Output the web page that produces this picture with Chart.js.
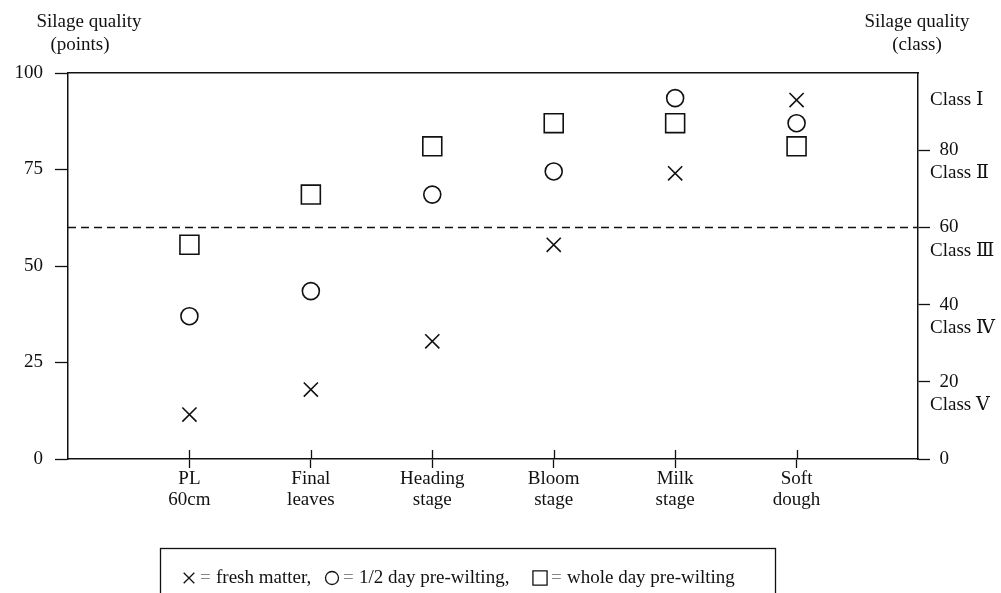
<!DOCTYPE html>
<html>
<head>
<meta charset="utf-8">
<script src="https://cdn.jsdelivr.net/npm/chart.js@4"></script>
<style>
  html, body { margin: 0; padding: 0; background: #fff; }
</style>
</head>
<body>
<canvas id="chart" width="1001" height="593"></canvas>
<script>
// values (points scale, 0-100)
const stages = [['PL', '60cm'], ['Final', 'leaves'], ['Heading', 'stage'], ['Bloom', 'stage'], ['Milk', 'stage'], ['Soft', 'dough']];
const freshMatter = [11.5, 18, 30.5, 55.5, 74, 93];
const halfDayWilted = [37, 43.5, 68.5, 74.5, 93.5, 87];
const wholeDayWilted = [55.5, 68.5, 81, 87, 87, 81];

const pointTicks = [0, 25, 50, 75, 100];
const classTicks = [0, 20, 40, 60, 80];
const classNames = ['Class Ⅰ', 'Class Ⅱ', 'Class Ⅲ', 'Class Ⅳ', 'Class Ⅴ'];
const classNameLevels = [93, 74, 54, 34, 14];
const classLimit = 60;

const ink = '#111';
const serif = '"Liberation Serif", "DejaVu Serif", "Times New Roman", serif';
Chart.defaults.font.family = serif;
Chart.defaults.font.size = 19;
Chart.defaults.color = ink;

const toPoints = arr => arr.map((v, i) => ({x: i, y: v}));

// little tick marks poking up into the plot from the category axis
const innerTicks = {
  id: 'innerTicks',
  afterDraw(chart) {
    const {ctx, scales: {x, y}} = chart;
    const y0 = y.getPixelForValue(0);
    ctx.save();
    ctx.strokeStyle = ink;
    ctx.lineWidth = 1.3;
    stages.forEach((s, i) => {
      const px = Math.round(x.getPixelForValue(i)) + 0.5;
      ctx.beginPath();
      ctx.moveTo(px, y0);
      ctx.lineTo(px, y0 - 9);
      ctx.stroke();
    });
    ctx.restore();
  }
};

// axis headings and the boxed key underneath
const keyX = [189, 332, 540];
const headings = {
  id: 'headings',
  afterDraw(chart) {
    const {ctx, chartArea} = chart;
    ctx.save();
    ctx.fillStyle = ink;
    ctx.font = '19px ' + serif;
    ctx.textAlign = 'center';
    ctx.textBaseline = 'middle';
    ctx.fillText('Silage quality', chartArea.left + 21, 22);
    ctx.fillText('(points)', chartArea.left + 12, 45);
    ctx.fillText('Silage quality', chartArea.right - 1, 22);
    ctx.fillText('(class)', chartArea.right - 1, 45);

    // key
    ctx.strokeStyle = ink;
    ctx.lineWidth = 1.3;
    ctx.strokeRect(160.5, 548.5, 615, 60);
    ctx.font = '19px ' + serif;
    ctx.textAlign = 'left';
    const cy = 578;
    chart.data.datasets.slice(0, 3).forEach((ds, i) => {
      const cx = keyX[i];
      ctx.fillStyle = 'rgba(0,0,0,0)';
      ctx.strokeStyle = ink;
      Chart.helpers.drawPoint(ctx, {
        pointStyle: ds.pointStyle,
        radius: ds.keyRadius,
        rotation: 0,
        borderWidth: 1.3
      }, cx, cy);
      ctx.fillStyle = '#888';
      ctx.fillText('=', cx + 11, cy);
      ctx.fillStyle = ink;
      ctx.fillText(ds.label, cx + 27, cy);
    });
    ctx.restore();
  }
};

new Chart(document.getElementById('chart'), {
  type: 'scatter',
  data: {
    datasets: [
      {
        label: 'fresh matter,',
        data: toPoints(freshMatter),
        pointStyle: 'crossRot',
        pointRadius: 10,
        keyRadius: 7.5,
        borderColor: ink,
        pointBorderWidth: 1.6
      },
      {
        label: '1/2 day pre-wilting,',
        data: toPoints(halfDayWilted),
        pointStyle: 'circle',
        pointRadius: 8.5,
        keyRadius: 6.5,
        borderColor: ink,
        backgroundColor: 'rgba(0,0,0,0)',
        pointBorderWidth: 1.6
      },
      {
        label: 'whole day pre-wilting',
        data: toPoints(wholeDayWilted),
        pointStyle: 'rect',
        pointRadius: 13.4,
        keyRadius: 10,
        borderColor: ink,
        backgroundColor: 'rgba(0,0,0,0)',
        pointBorderWidth: 1.6
      },
      {
        type: 'line',
        label: 'class limit',
        data: [{x: -1, y: classLimit}, {x: 6, y: classLimit}],
        borderColor: ink,
        borderWidth: 1.5,
        borderDash: [8, 5],
        pointRadius: 0
      }
    ]
  },
  options: {
    responsive: false,
    animation: false,
    layout: {padding: 0},
    plugins: {
      legend: {display: false},
      tooltip: {enabled: false}
    },
    scales: {
      x: {
        type: 'linear',
        position: 'bottom',
        min: -1,
        max: 6,
        afterBuildTicks: s => { s.ticks = stages.map((_, i) => ({value: i})); },
        afterFit: s => { s.height = 134; },
        ticks: {
          callback: v => stages[v],
          padding: 1,
          maxRotation: 0,
          autoSkip: false,
          font: {lineHeight: 1.1}
        },
        grid: {drawOnChartArea: false, tickLength: 9, tickColor: ink, tickWidth: 1.3},
        border: {color: ink, width: 1.5}
      },
      xTop: {
        type: 'linear',
        position: 'top',
        min: -1,
        max: 6,
        ticks: {display: false},
        grid: {display: false},
        border: {color: ink, width: 1.5},
        afterFit: s => { s.height = 73; }
      },
      y: {
        position: 'left',
        min: 0,
        max: 100,
        afterBuildTicks: s => { s.ticks = pointTicks.map(v => ({value: v})); },
        afterFit: s => { s.width = 68; },
        ticks: {padding: 12, autoSkip: false},
        grid: {drawOnChartArea: false, tickLength: 13, tickColor: ink, tickWidth: 1.3},
        border: {color: ink, width: 1.5}
      },
      yRight: {
        position: 'right',
        min: 0,
        max: 100,
        afterBuildTicks: s => {
          s.ticks = classTicks.concat(classNameLevels)
            .sort((a, b) => a - b)
            .map(v => ({value: v}));
        },
        afterFit: s => { s.width = 83; },
        ticks: {
          autoSkip: false,
          padding: 0,
          callback: v => {
            const k = classNameLevels.indexOf(v);
            return k >= 0 ? classNames[k] : '  ' + v;
          }
        },
        grid: {
          drawOnChartArea: false,
          tickLength: 12,
          tickWidth: 1.3,
          tickColor: c => (c.tick && classNameLevels.includes(c.tick.value)) ? 'rgba(0,0,0,0)' : ink
        },
        border: {color: ink, width: 1.5}
      }
    }
  },
  plugins: [innerTicks, headings]
});
</script>
</body>
</html>
